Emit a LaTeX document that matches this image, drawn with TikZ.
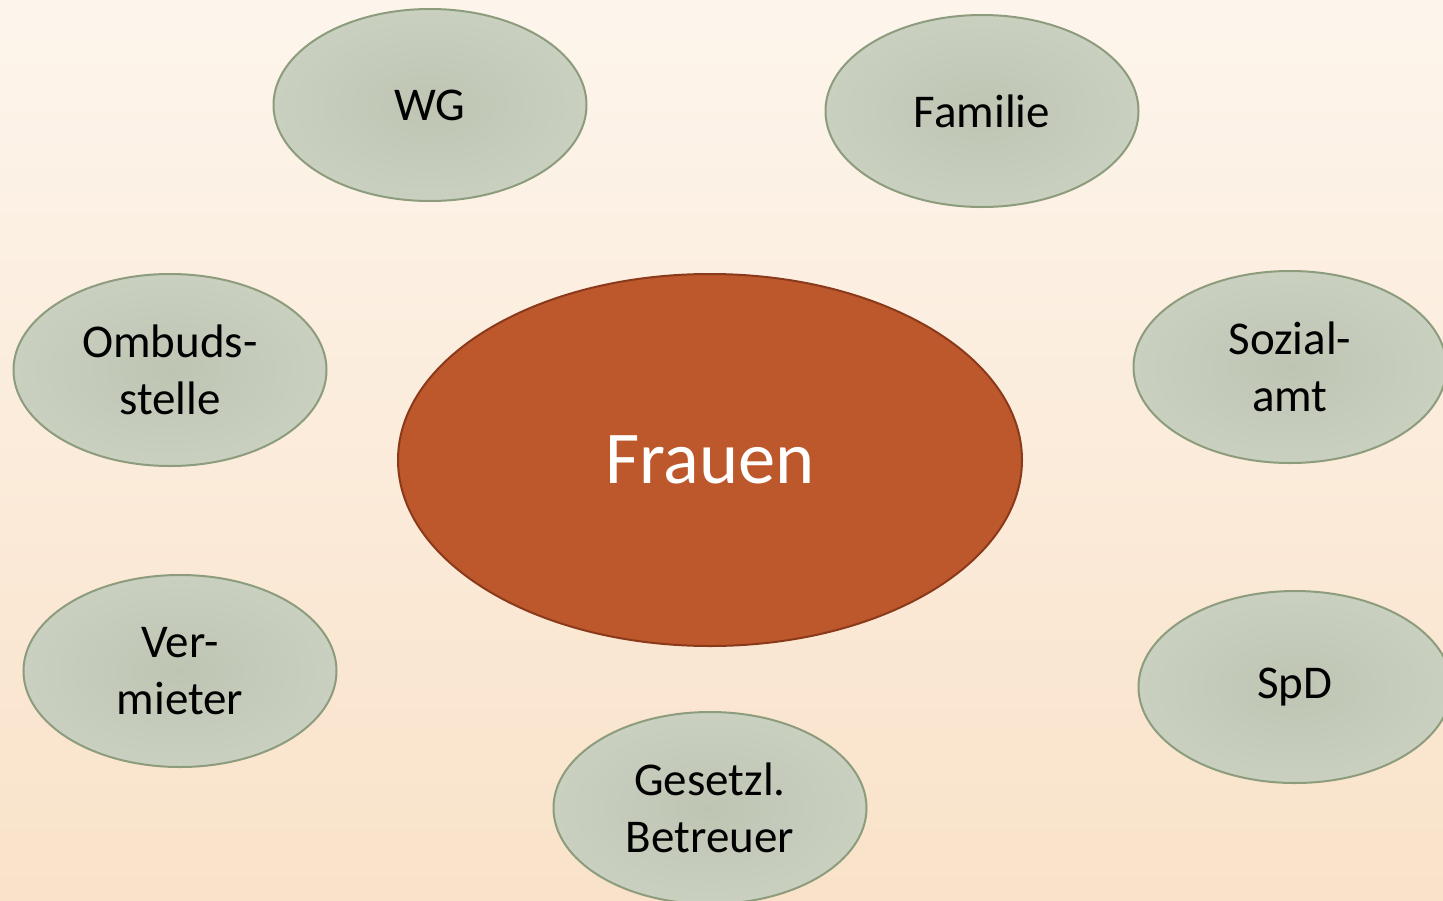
\documentclass[tikz,border=0pt]{standalone}
\usepackage{fontspec}
\setmainfont{Carlito}
\usetikzlibrary{shapes.geometric}
\definecolor{bgtop}{HTML}{FDF5EC}
\definecolor{bgbot}{HTML}{F9E2C9}
\definecolor{satin}{HTML}{C9D0C0}
\definecolor{satinin}{HTML}{BEC5B3}
\definecolor{satinedge}{HTML}{8C9C7C}
\definecolor{rust}{HTML}{BC582C}
\definecolor{rustedge}{HTML}{8A3A1A}
\tikzset{
  sat/.style={ellipse, minimum width=313pt, minimum height=192pt, inner sep=0pt,
    draw=satinedge, line width=2pt, shading=radial, inner color=satinin, outer color=satin,
    align=center, font=\fontsize{47}{57}\selectfont, text=black},
  core/.style={ellipse, minimum width=624pt, minimum height=372pt, inner sep=0pt,
    draw=rustedge, line width=2pt, fill=rust, text=white,
    font=\fontsize{74.5}{80}\selectfont}
}
\begin{document}
\begin{tikzpicture}[x=1pt,y=-1pt]
\shade[top color=bgtop, bottom color=bgbot] (0,0) rectangle (1443,900);
\useasboundingbox (0,0) rectangle (1443,900);
\node[core] (fr) at (710,460) {Frauen};
\node[sat] (wg) at (430,105) {WG};
\node[sat] (fam) at (982,111) {Familie};
\node[sat] (omb) at (170,370) {Ombuds-\\stelle};
\node[sat] (soz) at (1290,367) {Sozial-\\amt};
\node[sat] (ver) at (180,671) {Ver-\\mieter};
\node[sat] (spd) at (1295,687) {SpD};
\node[sat] (ges) at (710,808) {Gesetzl.\\Betreuer};
\end{tikzpicture}
\end{document}
